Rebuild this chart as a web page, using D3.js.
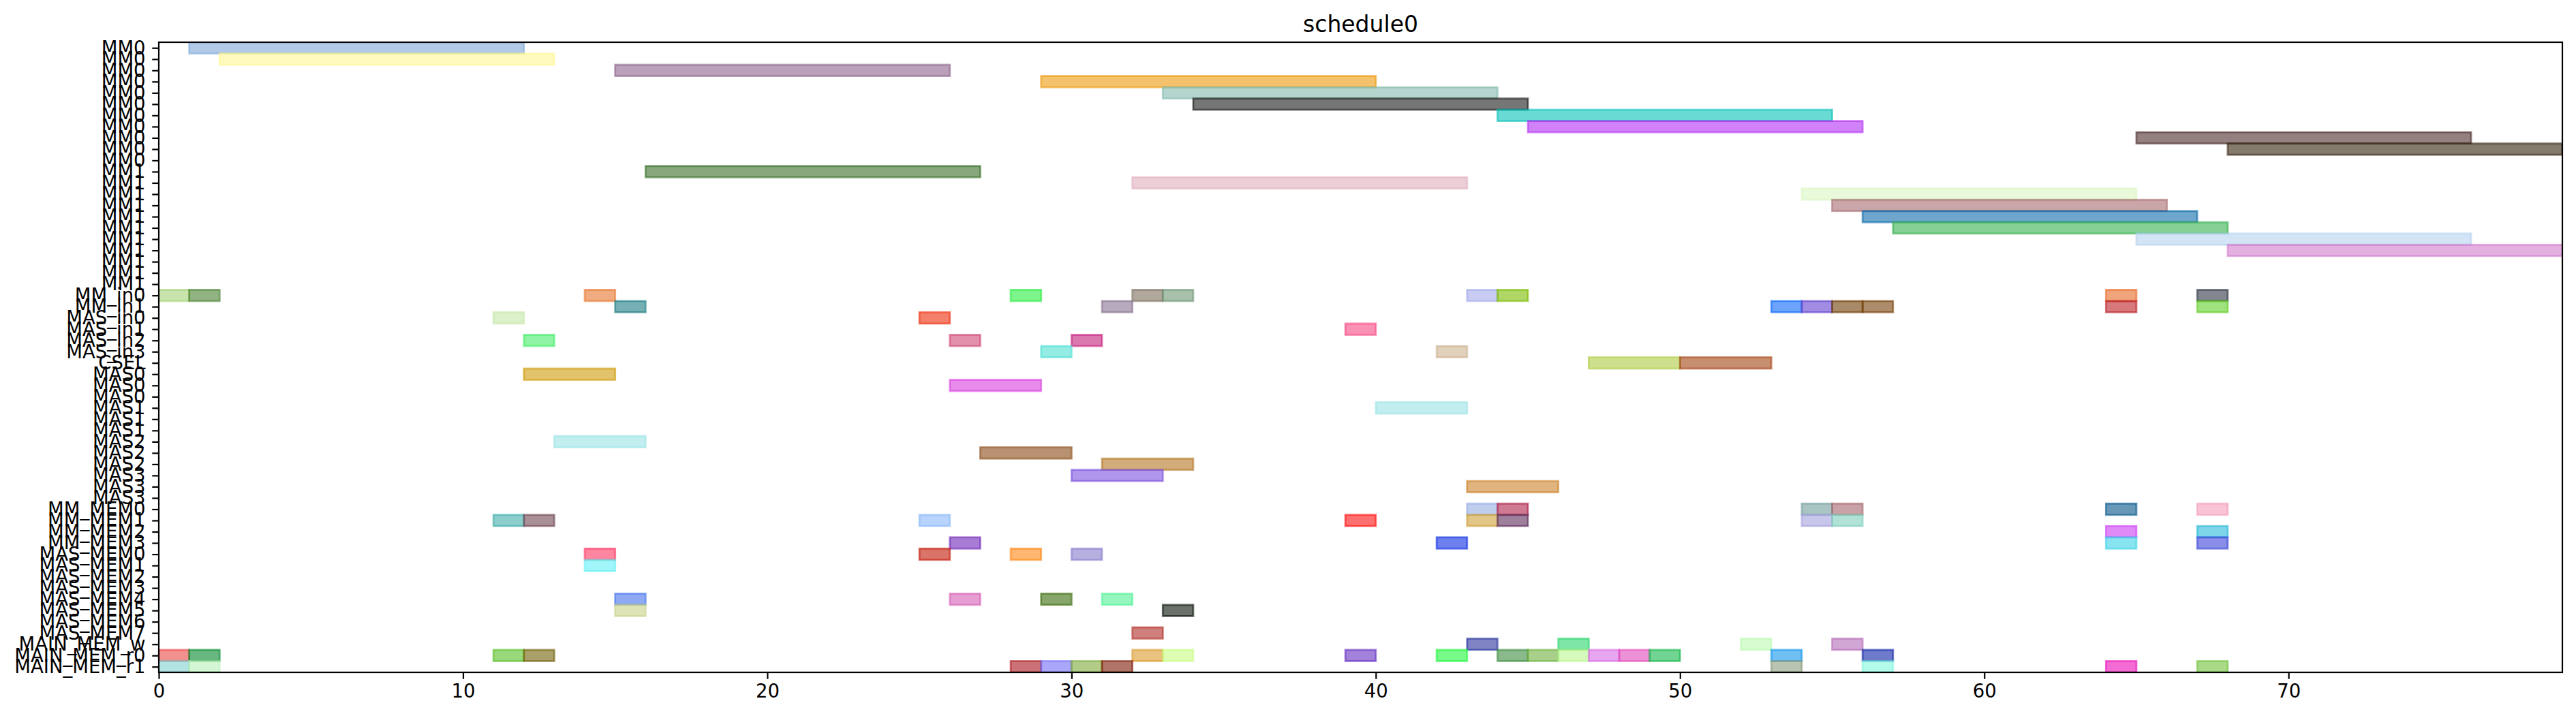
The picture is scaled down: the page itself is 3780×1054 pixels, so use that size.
<!DOCTYPE html>
<html>
<head>
<meta charset="utf-8">
<script src="https://cdn.jsdelivr.net/npm/d3@7"></script>
<style>
  body { margin: 0; background: #fff; }
  text { font-family: "DejaVu Sans", sans-serif; fill: #000; }
</style>
</head>
<body>
<div id="plot"></div>
<script>
// row labels, top to bottom
const rowLabels = [
  "MM0","MM0","MM0","MM0","MM0","MM0","MM0","MM0","MM0","MM0","MM0",
  "MM1","MM1","MM1","MM1","MM1","MM1","MM1","MM1","MM1","MM1","MM1",
  "MM_in0","MM_in1","MAS_in0","MAS_in1","MAS_in2","MAS_in3","CSEL",
  "MAS0","MAS0","MAS0","MAS1","MAS1","MAS1","MAS2","MAS2","MAS2","MAS3","MAS3","MAS3",
  "MM_MEM0","MM_MEM1","MM_MEM2","MM_MEM3",
  "MAS_MEM0","MAS_MEM1","MAS_MEM2","MAS_MEM3","MAS_MEM4","MAS_MEM5","MAS_MEM6","MAS_MEM7",
  "MAIN_MEM_w","MAIN_MEM_r0","MAIN_MEM_r1"
];

// tasks: row index, start, end
const taskRow = [
  0,1,2,3,4,5,6,7,8,9,
  11,12,13,14,15,16,17,18,
  22,22,22,22,22,22,22,22,22,22,
  23,23,23,23,23,23,23,23,
  24,24, 25, 26,26,26, 27,27, 28,28,
  29,30, 32, 35,36,37, 38,39,
  41,41,41,41,41,41,
  42,42,42,42,42,42,42,42,
  43,43, 44,44,44,44,
  45,45,45,45, 46,
  49,49,49,49, 50,50, 52,
  53,53,53,53,
  54,54,54,54,54,54,54,54,54,54,54,54,54,54,54,54,
  55,55,55,55,55,55,55,55,55,55
];
const taskStart = [
  1,2,15,29,33,34,44,45,65,68,
  16,32,54,55,56,57,65,68,
  0,1,14,28,32,33,43,44,64,67,
  15,31,53,54,55,56,64,67,
  11,25, 39, 12,26,30, 29,42, 47,50,
  12,26, 40, 13,27,31, 30,43,
  43,44,54,55,64,67,
  11,12,25,39,43,44,54,55,
  64,67, 26,42,64,67,
  14,25,28,30, 14,
  15,26,29,31, 15,33, 32,
  43,46,52,55,
  0,1,11,12,32,33,39,42,44,45,46,47,48,49,53,56,
  0,1,28,29,30,31,53,56,64,67
];
const taskEnd = [
  12,13,26,40,44,45,55,56,76,79,
  27,43,65,66,67,68,76,79,
  1,2,15,29,33,34,44,45,65,68,
  16,32,54,55,56,57,65,68,
  12,26, 40, 13,27,31, 30,43, 50,53,
  15,29, 43, 16,30,34, 33,46,
  44,45,55,56,65,68,
  12,13,26,40,44,45,55,56,
  65,68, 27,43,65,68,
  15,26,29,31, 15,
  16,27,30,32, 16,34, 33,
  44,47,53,56,
  1,2,12,13,33,34,40,43,45,46,47,48,49,50,54,57,
  1,2,29,30,31,32,54,57,65,68
];
const taskColors = [
  "#7fa7d9","#fff793","#8c6189","#ed980a","#82bbad","#1b1b1b","#07c1b7","#b42ff3","#4d2b2b","#32210d",
  "#356e25","#dfadbb","#d9f7c1","#a76b6e","#0d6baa","#35b150","#b4d2f0","#d27bcb",
  "#a3d275","#49822f","#e6752b","#28ed3f","#7b6e5a","#6e9675","#a3aae9","#7bbb00","#e66725","#2f3543",
  "#1b7b82","#85718f","#0a67fa","#613fcf","#6e3c03","#753f07","#bb1e25","#61cf28",
  "#c5e6a7","#ed2b0a", "#f74682", "#43ed67","#cf4675","#c51e7b", "#4ddfd2","#cbb18f", "#adcb43","#a34311",
  "#cf9907","#d93fdf", "#99e3e6", "#99e3e6","#894914","#b47521", "#7b50df","#cb8228",
  "#96ade3","#ad2149","#719d9d","#a3646b","#035389","#f39dbb",
  "#3fadaa","#6e4650","#89b7fa","#fd1111","#cfa039","#5d2b5a","#a3a0dc","#7fcfbb",
  "#cb3cf3","#28b7d9", "#6e25b7","#0a2be3","#39d2e6","#3c43d9",
  "#fd3561","#c11707","#fd8511","#857bcb", "#61f0f3",
  "#4371e9","#d55db4","#396b0a","#50f096", "#c8d289","#061006", "#b12b25",
  "#28329d","#28d56b","#bbfab1","#b46bb7",
  "#e94646","#00892b","#57be25","#716107","#dc992b","#c8fd82","#642fc1","#1ef739",
  "#3c8c3f","#6eb13c","#bbf78f","#d96be6","#e349be","#14b749","#1196ed","#0d21a7",
  "#7fcfcf","#b7f0b7","#aa141b","#716bf7","#7baa39","#7b1703","#8c9d7f","#7ff7dc","#e90ab7","#6ec139"
];
const xTicks = [0, 10, 20, 30, 40, 50, 60, 70];
const chartTitle = "schedule0";

const W = 3780, H = 1054;
const margin = { top: 62, right: 20, bottom: 67, left: 233 };
const fontSize = 27.5;
const tickLen = 9.7;

var svg = d3.select("#plot").append("svg")
  .attr("width", W)
  .attr("height", H);

var x = d3.scaleLinear().domain([0, 79]).range([margin.left, W - margin.right]);
var y = d3.scaleLinear().domain([-0.5, rowLabels.length - 0.5]).range([margin.top, H - margin.bottom]);

svg.append("clipPath").attr("id", "clip")
  .append("rect")
  .attr("x", margin.left).attr("y", margin.top)
  .attr("width", W - margin.left - margin.right)
  .attr("height", H - margin.top - margin.bottom);

// bars
var tasks = taskRow.map((r, i) => ({ row: r, start: taskStart[i], end: taskEnd[i], color: taskColors[i] }));

svg.append("g").attr("clip-path", "url(#clip)")
  .selectAll("rect")
  .data(tasks)
  .enter().append("rect")
  .attr("x", d => x(d.start))
  .attr("width", d => x(d.end) - x(d.start))
  .attr("y", d => y(d.row - 0.5))
  .attr("height", d => y(d.row + 0.5) - y(d.row - 0.5))
  .attr("fill", d => d.color)
  .attr("fill-opacity", 0.6)
  .attr("stroke", d => d.color)
  .attr("stroke-opacity", 0.6)
  .attr("stroke-width", 2.8);

// x axis
var xAxis = d3.axisBottom(x).tickValues(xTicks).tickSize(tickLen).tickPadding(8);
var gx = svg.append("g")
  .attr("transform", `translate(0,${H - margin.bottom})`)
  .call(xAxis);
gx.select(".domain").remove();
gx.selectAll("line").attr("stroke", "#000").attr("stroke-width", 2.2);
gx.selectAll("text")
  .style("font-family", "DejaVu Sans")
  .style("font-size", fontSize + "px")
  .attr("fill", "#000");

// y axis
var yAxis = d3.axisLeft(y)
  .tickValues(d3.range(rowLabels.length))
  .tickFormat(i => rowLabels[i])
  .tickSize(tickLen)
  .tickPadding(9.7);
var gy = svg.append("g")
  .attr("transform", `translate(${margin.left},0)`)
  .call(yAxis);
gy.select(".domain").remove();
gy.selectAll("line").attr("stroke", "#000").attr("stroke-width", 2.2);
gy.selectAll("text")
  .style("font-family", "DejaVu Sans")
  .style("font-size", fontSize + "px")
  .attr("fill", "#000");

// frame
svg.append("rect")
  .attr("x", margin.left).attr("y", margin.top)
  .attr("width", W - margin.left - margin.right)
  .attr("height", H - margin.top - margin.bottom)
  .attr("fill", "none")
  .attr("stroke", "#000")
  .attr("stroke-width", 2.2);

// title
svg.append("text")
  .attr("x", (margin.left + W - margin.right) / 2)
  .attr("y", 47)
  .attr("text-anchor", "middle")
  .style("font-size", "33px")
  .text(chartTitle);
</script>
</body>
</html>
